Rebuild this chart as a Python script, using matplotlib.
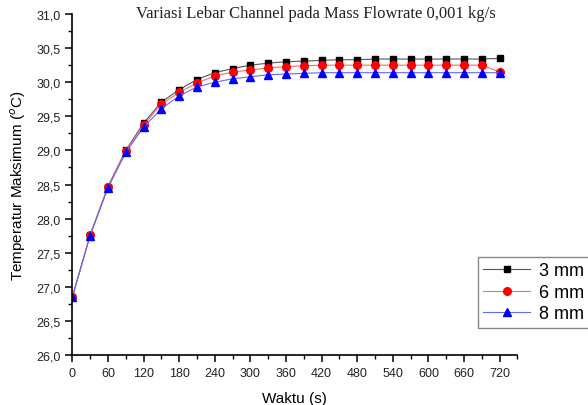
import matplotlib.pyplot as plt
from matplotlib.ticker import MultipleLocator, FuncFormatter

waktu = [0, 30, 60, 90, 120, 150, 180, 210, 240, 270, 300, 330, 360,
         390, 420, 450, 480, 510, 540, 570, 600, 630, 660, 690, 720]

temp_3mm = [26.85, 27.76, 28.47, 29.00, 29.40, 29.71, 29.89, 30.04, 30.14, 30.20,
            30.25, 30.28, 30.30, 30.31, 30.32, 30.33, 30.33, 30.34, 30.34, 30.34,
            30.34, 30.34, 30.34, 30.34, 30.35]
temp_6mm = [26.85, 27.76, 28.46, 28.99, 29.37, 29.68, 29.85, 29.99, 30.09, 30.15,
            30.18, 30.21, 30.23, 30.24, 30.25, 30.25, 30.25, 30.25, 30.25, 30.25,
            30.25, 30.25, 30.25, 30.25, 30.15]
temp_8mm = [26.85, 27.75, 28.45, 28.97, 29.34, 29.61, 29.80, 29.93, 30.00, 30.05,
            30.08, 30.11, 30.12, 30.13, 30.14, 30.14, 30.14, 30.14, 30.14, 30.14,
            30.14, 30.14, 30.14, 30.14, 30.14]

fig = plt.figure(figsize=(5.88, 4.06), dpi=100)
ax = fig.add_axes([0.123, 0.123, 0.757, 0.840])

ax.plot(waktu, temp_3mm, color='#555555', lw=0.8, marker='s', ms=5,
        mfc='black', mec='black', label='3 mm')
ax.plot(waktu, temp_6mm, color='#ff6666', lw=0.8, marker='o', ms=5.5,
        mfc='red', mec='red', label='6 mm')
ax.plot(waktu, temp_8mm, color='#6666ff', lw=0.8, marker='^', ms=6,
        mfc='blue', mec='blue', label='8 mm')

ax.set_xlim(0, 750)
ax.set_ylim(26.0, 31.0)
ax.xaxis.set_major_locator(MultipleLocator(60))
ax.xaxis.set_minor_locator(MultipleLocator(30))
ax.yaxis.set_major_locator(MultipleLocator(0.5))
ax.yaxis.set_minor_locator(MultipleLocator(0.25))
ax.yaxis.set_major_formatter(FuncFormatter(lambda v, _: f"{v:.1f}".replace('.', ',')))

for side in ['top', 'right']:
    ax.spines[side].set_visible(False)
for side in ['left', 'bottom']:
    ax.spines[side].set_linewidth(1.2)

ax.tick_params(which='major', direction='out', length=5, width=1.1,
               labelsize=9, colors='black', labelcolor='#222222')
ax.tick_params(which='minor', direction='out', length=3, width=1.0)

ax.set_xlabel('Waktu (s)', fontsize=11, family='Liberation Sans', labelpad=9)
ax.set_ylabel('Temperatur Maksimum ($^{o}$C)', fontsize=11,
              family='Liberation Sans', labelpad=6)
for lbl in ax.get_xticklabels() + ax.get_yticklabels():
    lbl.set_family('Liberation Sans')

fig.text(0.538, 0.965, 'Variasi Lebar Channel pada Mass Flowrate 0,001 kg/s',
         ha='center', va='center', fontsize=12, family='Liberation Serif',
         color='#222222')

leg = fig.legend(loc='upper left', bbox_to_anchor=(478 / 588, 1 - 258 / 406),
                 bbox_transform=fig.transFigure, borderaxespad=0,
                 fancybox=False, edgecolor='#888888', framealpha=1,
                 prop={'family': 'Liberation Sans', 'size': 13},
                 handlelength=2.6, labelspacing=0.25, borderpad=0.3,
                 handletextpad=0.5)
leg.get_frame().set_linewidth(1.0)

fig.savefig('out.png', dpi=100)
